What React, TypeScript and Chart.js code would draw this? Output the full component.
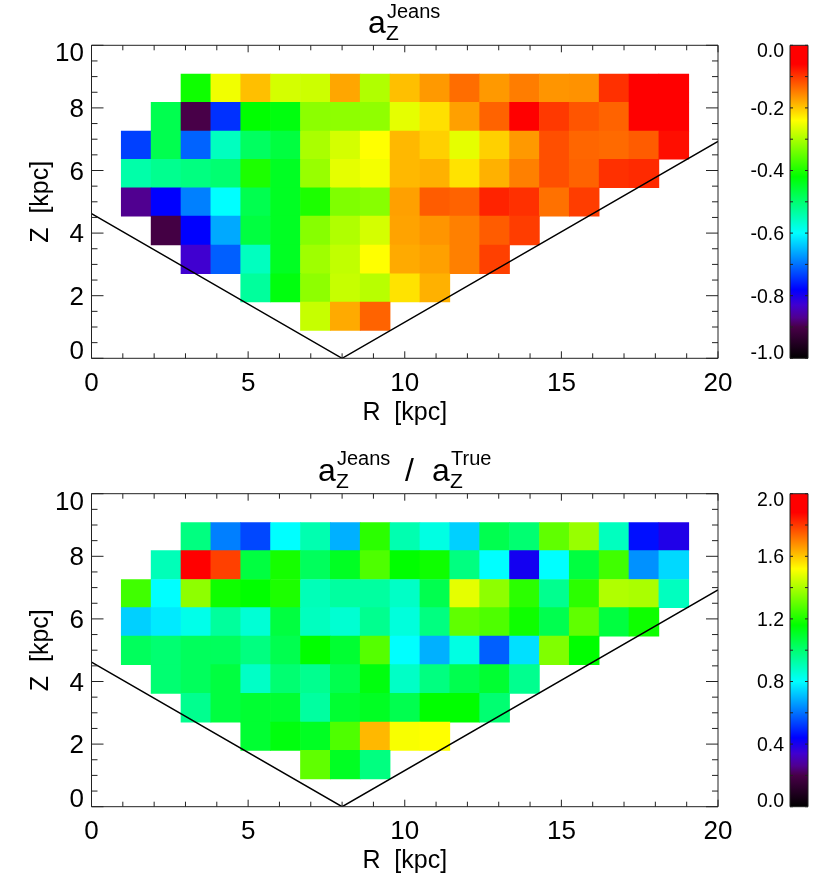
import React, { useEffect, useRef } from 'react';
import { Chart, registerables } from 'chart.js';

Chart.register(...registerables);

const FONT = "'Liberation Sans', Arial, sans-serif";

// bin centres in R and bin edges in Z, both in kpc
const radiusCentres = [1.427, 2.38, 3.334, 4.287, 5.241, 6.194, 7.148, 8.101, 9.055, 10.008, 10.962, 11.915, 12.869, 13.822, 14.776, 15.729, 16.683, 17.636, 18.59];
const heightEdges = [0.89, 1.8, 2.7, 3.62, 4.54, 5.45, 6.36, 7.26, 8.18, 9.08];

const _ = null;

// rows run from the lowest Z bin upwards
const jeansRows = [
  [_, _, _, _, _, _, -0.28, -0.18, -0.13, _, _, _, _, _, _, _, _, _, _],
  [_, _, _, _, -0.53, -0.43, -0.32, -0.28, -0.29, -0.22, -0.185, _, _, _, _, _, _, _, _],
  [_, _, -0.83, -0.713, -0.555, -0.445, -0.308, -0.284, -0.24, -0.18, -0.173, -0.15, -0.105, _, _, _, _, _, _],
  [_, -0.905, -0.78, -0.661, -0.465, -0.445, -0.325, -0.296, -0.27, -0.175, -0.165, -0.15, -0.125, -0.103, _, _, _, _, _],
  [-0.87, -0.78, -0.69, -0.6, -0.476, -0.445, -0.4, -0.33, -0.325, -0.173, -0.125, -0.13, -0.085, -0.094, -0.14, -0.103, _, _, _],
  [-0.539, -0.521, -0.51, -0.5, -0.4, -0.445, -0.313, -0.258, -0.248, -0.19, -0.185, -0.22, -0.185, -0.15, -0.116, -0.13, -0.094, -0.09, _],
  [-0.735, -0.476, -0.71, -0.555, -0.488, -0.465, -0.3, -0.27, -0.24, -0.19, -0.207, -0.258, -0.207, -0.168, -0.116, -0.132, -0.135, -0.125, -0.07],
  [_, -0.476, -0.9, -0.746, -0.42, -0.43, -0.321, -0.32, -0.318, -0.258, -0.218, -0.173, -0.13, -0.05, -0.1, -0.12, -0.13, -0.02, -0.02],
  [_, _, -0.41, -0.25, -0.195, -0.27, -0.276, -0.177, -0.296, -0.195, -0.168, -0.137, -0.168, -0.148, -0.165, -0.163, -0.094, -0.03, -0.02],
];

const ratioRows = [
  [_, _, _, _, _, _, 1.296, 1.11, 0.98, _, _, _, _, _, _, _, _, _, _],
  [_, _, _, _, 1.09, 1.14, 1.11, 1.27, 1.62, 1.51, 1.52, _, _, _, _, _, _, _, _],
  [_, _, 0.958, 1.07, 1.09, 1.09, 0.934, 1.09, 1.11, 1.048, 1.16, 1.16, 1.0, _, _, _, _, _, _],
  [_, 1.0, 1.03, 1.07, 0.88, 1.0, 0.958, 1.048, 1.14, 0.88, 0.98, 1.048, 1.09, 0.958, _, _, _, _, _],
  [1.03, 1.0, 1.03, 1.03, 0.98, 1.048, 1.16, 1.09, 1.28, 0.8, 0.688, 0.84, 0.574, 0.756, 1.34, 1.16, _, _, _],
  [0.734, 0.77, 0.83, 0.94, 0.86, 1.07, 0.89, 0.864, 0.958, 0.85, 0.98, 1.296, 1.27, 1.18, 1.048, 1.296, 1.07, 1.18, _],
  [1.25, 0.8, 1.36, 1.18, 1.16, 1.2, 0.9, 0.934, 0.934, 0.88, 1.048, 1.484, 1.36, 1.22, 0.958, 1.22, 1.408, 1.4, 0.89],
  [_, 0.9, 1.92, 1.79, 1.07, 1.19, 1.03, 1.11, 1.27, 1.16, 1.18, 0.98, 0.8, 0.41, 0.8, 1.07, 1.25, 0.644, 0.746],
  [_, _, 0.98, 0.62, 0.54, 0.8, 0.912, 0.688, 1.22, 0.912, 0.84, 0.734, 1.048, 1.0, 1.296, 1.374, 0.89, 0.46, 0.39],
];

// the V shaped limit drawn over both maps
const limitLine = [
  { x: 0, y: 4.62 },
  { x: 8, y: 0 },
  { x: 20, y: 6.93 },
];

// rainbow colour table: position along the bar, then r, g, b
const tablePositions = [0, 0.1, 0.13, 0.17, 0.22, 0.4, 0.58, 0.76, 0.94, 1];
const tableColours = [
  [0, 0, 0],
  [72, 0, 72],
  [80, 0, 144],
  [64, 0, 208],
  [0, 0, 255],
  [0, 255, 255],
  [0, 255, 0],
  [255, 255, 0],
  [255, 0, 0],
  [255, 0, 0],
];

const colourAt = (t: number) => {
  const f = Math.min(1, Math.max(0, t));
  let i = 0;
  while (i < tablePositions.length - 2 && f > tablePositions[i + 1]) i++;
  const k = (f - tablePositions[i]) / (tablePositions[i + 1] - tablePositions[i]);
  const a = tableColours[i];
  const b = tableColours[i + 1];
  const mix = (n: number) => Math.round(a[n] + (b[n] - a[n]) * k);
  return `rgb(${mix(0)},${mix(1)},${mix(2)})`;
};

// inward ticks and the box round each plot
const frameTicks = {
  id: 'frameTicks',
  afterDatasetsDraw(chart: any, _args: any, opts: any) {
    const { ctx, chartArea: area, scales } = chart;
    ctx.save();
    ctx.strokeStyle = '#222';
    ctx.lineWidth = 1;
    ctx.beginPath();
    const walk = (min: number, max: number, step: number, major: number, cb: (v: number, big: boolean) => void) => {
      const n = Math.round((max - min) / step);
      for (let i = 0; i <= n; i++) {
        const v = min + i * step;
        cb(v, Math.abs(v / major - Math.round(v / major)) < 1e-6);
      }
    };
    if (opts.xStep) {
      walk(scales.x.min, scales.x.max, opts.xStep, opts.xMajor, (v, big) => {
        const px = scales.x.getPixelForValue(v);
        const len = big ? opts.xBig : opts.xSmall;
        ctx.moveTo(px, area.bottom);
        ctx.lineTo(px, area.bottom - len);
        ctx.moveTo(px, area.top);
        ctx.lineTo(px, area.top + len);
      });
    }
    walk(scales.y.min, scales.y.max, opts.yStep, opts.yMajor, (v, big) => {
      const py = scales.y.getPixelForValue(v);
      const len = big ? opts.yBig : opts.ySmall;
      ctx.moveTo(area.left, py);
      ctx.lineTo(area.left + len, py);
      ctx.moveTo(area.right, py);
      ctx.lineTo(area.right - len, py);
    });
    ctx.rect(area.left, area.top, area.right - area.left, area.bottom - area.top);
    ctx.stroke();

    // y tick labels: the first and last are pushed inside the axis span
    ctx.fillStyle = '#000';
    ctx.textAlign = 'right';
    ctx.textBaseline = 'alphabetic';
    ctx.font = `${opts.labelSize}px ${FONT}`;
    const rise = opts.labelSize * 0.35;
    for (const tick of scales.y.ticks) {
      const py = scales.y.getPixelForValue(tick.value);
      const centre = Math.min(area.bottom - opts.labelSize * 0.33, Math.max(area.top + opts.labelSize * 0.27, py));
      ctx.fillText(opts.digits ? Number(tick.value).toFixed(opts.digits) : String(tick.value), area.left - opts.labelGap, centre + rise);
    }
    ctx.restore();
  },
};

// title with sub and superscripts, one entry per run
const titleRuns = {
  id: 'titleRuns',
  afterDraw(chart: any, _args: any, opts: any) {
    const { ctx } = chart;
    ctx.save();
    ctx.fillStyle = '#000';
    ctx.textAlign = 'left';
    ctx.textBaseline = 'alphabetic';
    for (const run of opts.runs || []) {
      ctx.font = `${run.size}px ${FONT}`;
      ctx.fillText(run.text, run.x, run.y);
    }
    ctx.restore();
  },
};

const topTitle = [
  { text: 'a', x: 368, y: 33, size: 32 },
  { text: 'Z', x: 386, y: 39.5, size: 21 },
  { text: 'Jeans', x: 387, y: 17.5, size: 20 },
];

const bottomTitle = [
  { text: 'a', x: 318, y: 43.7, size: 32 },
  { text: 'Z', x: 336, y: 50.5, size: 21 },
  { text: 'Jeans', x: 337, y: 28, size: 20 },
  { text: '/', x: 405, y: 43.7, size: 32 },
  { text: 'a', x: 432, y: 43.7, size: 32 },
  { text: 'Z', x: 450, y: 50.5, size: 21 },
  { text: 'True', x: 451, y: 28, size: 20 },
];

const makeMap = (canvas: HTMLCanvasElement, rows: (number | null)[][], low: number, high: number, top: number, runs: any[]) => {
  const cellSets = rows.map((row, r) => {
    const points: any[] = [];
    const colours: string[] = [];
    row.forEach((value, c) => {
      if (value === null) return;
      points.push({ x: radiusCentres[c], y: [heightEdges[r], heightEdges[r + 1]] });
      colours.push(colourAt((value - low) / (high - low)));
    });
    return {
      type: 'bar' as const,
      data: points,
      backgroundColor: colours,
      borderWidth: 0,
      grouped: false,
      barPercentage: 1,
      categoryPercentage: 1,
      order: 1,
    };
  });
  return new Chart(canvas, {
    type: 'bar',
    data: {
      datasets: [
        ...cellSets,
        {
          type: 'line' as const,
          data: limitLine,
          borderColor: '#000',
          borderWidth: 1.5,
          pointRadius: 0,
          order: 0,
        },
      ] as any,
    },
    options: {
      animation: false,
      responsive: false,
      events: [],
      layout: { autoPadding: false, padding: { top, right: 22, left: 0, bottom: 0 } },
      plugins: {
        legend: { display: false },
        tooltip: { enabled: false },
        frameTicks: { xStep: 1, xMajor: 5, xBig: 7, xSmall: 5, yStep: 0.5, yMajor: 2, yBig: 12, ySmall: 6, labelSize: 26, labelGap: 7.5 },
        titleRuns: { runs },
      } as any,
      scales: {
        x: {
          type: 'linear',
          min: 0,
          max: 20,
          offset: false,
          grid: { display: false, offset: false, drawTicks: false },
          border: { display: false },
          ticks: { stepSize: 5, maxRotation: 0, padding: 10, color: '#000', font: { family: FONT, size: 26 } },
          title: { display: true, text: 'R  [kpc]', color: '#000', padding: 0, font: { family: FONT, size: 25 } },
          afterFit: (s: any) => {
            s.height = canvas.height - (top + 313);
            s.paddingLeft = 0;
            s.paddingRight = 0;
          },
        },
        y: {
          min: 0,
          max: 10,
          grid: { display: false, drawTicks: false },
          border: { display: false },
          ticks: { stepSize: 2, display: false },
          title: { display: true, text: 'Z  [kpc]', color: '#000', padding: { top: 26, bottom: 0 }, font: { family: FONT, size: 25 } },
          afterFit: (s: any) => {
            s.width = 91.5;
          },
        },
      },
    },
    plugins: [frameTicks, titleRuns],
  });
};

const makeBar = (canvas: HTMLCanvasElement, low: number, high: number, step: number, top: number) =>
  new Chart(canvas, {
    type: 'bar',
    data: {
      labels: ['scale'],
      datasets: [
        {
          data: [[low, high]],
          barPercentage: 1,
          categoryPercentage: 1,
          borderWidth: 0,
          backgroundColor: (c: any) => {
            const area = c.chart.chartArea;
            if (!area) return 'transparent';
            const g = c.chart.ctx.createLinearGradient(0, area.bottom, 0, area.top);
            tablePositions.forEach((p, i) => g.addColorStop(p, `rgb(${tableColours[i].join(',')})`));
            return g;
          },
        },
      ] as any,
    },
    options: {
      animation: false,
      responsive: false,
      events: [],
      layout: { autoPadding: false, padding: { top, right: 22, left: 0, bottom: canvas.height - top - 313 } },
      plugins: {
        legend: { display: false },
        tooltip: { enabled: false },
        frameTicks: { yStep: step / 2, yMajor: step, yBig: 3, ySmall: 3, labelSize: 19.5, labelGap: 6, digits: 1 },
      } as any,
      scales: {
        x: { display: false },
        y: {
          min: low,
          max: high,
          grid: { display: false, drawTicks: false },
          border: { display: false },
          ticks: { stepSize: step, display: false },
          afterFit: (s: any) => {
            s.width = 50;
          },
        },
      },
    },
    plugins: [frameTicks],
  });

const place = (left: number, top: number): React.CSSProperties => ({ position: 'absolute', left, top });

export default function App() {
  const topMap = useRef<HTMLCanvasElement>(null);
  const topBar = useRef<HTMLCanvasElement>(null);
  const lowMap = useRef<HTMLCanvasElement>(null);
  const lowBar = useRef<HTMLCanvasElement>(null);

  useEffect(() => {
    const charts = [
      makeMap(topMap.current!, jeansRows, -1, 0, 45.3, topTitle),
      makeBar(topBar.current!, -1, 0, 0.2, 45.3),
      makeMap(lowMap.current!, ratioRows, 0, 2, 56.7, bottomTitle),
      makeBar(lowBar.current!, 0, 2, 0.4, 56.7),
    ];
    return () => charts.forEach((c) => c.destroy());
  }, []);

  return (
    <div style={{ position: 'absolute', left: 0, top: 0, width: 830, height: 876, overflow: 'hidden', background: '#fff' }}>
      <canvas ref={topMap} width={740} height={428} style={place(0, 0)} />
      <canvas ref={topBar} width={90} height={428} style={place(740, 0)} />
      <canvas ref={lowMap} width={740} height={439} style={place(0, 437)} />
      <canvas ref={lowBar} width={90} height={439} style={place(740, 437)} />
    </div>
  );
}
